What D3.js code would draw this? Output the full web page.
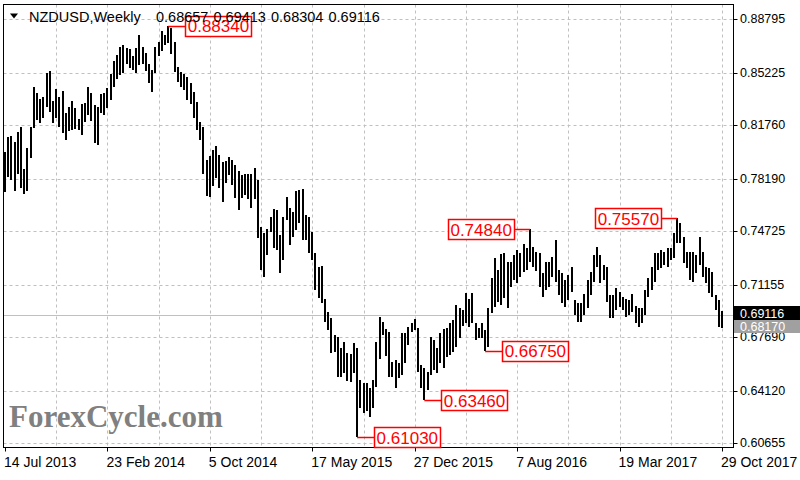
<!DOCTYPE html>
<html><head><meta charset="utf-8">
<script src="https://cdn.jsdelivr.net/npm/d3@7"></script>
<style>body{margin:0;background:#fff;}svg{display:block;}</style>
</head><body>
<svg id="c" width="800" height="480"></svg>
<script>
const highs = [0.7999,0.8098,0.8103,0.8063,0.8129,0.8163,0.7884,0.8023,0.8163,0.8428,
0.8388,0.8349,0.8362,0.8521,0.8535,0.8335,0.8415,0.8362,0.8402,0.8256,
0.8296,0.8335,0.8289,0.8216,0.8315,0.8322,0.8428,0.8388,0.8309,0.8296,
0.8382,0.8388,0.8422,0.8515,0.8601,0.8641,0.8694,0.8707,0.8689,0.8681,
0.8634,0.8689,0.8774,0.8696,0.8654,0.8581,0.8541,0.8696,0.8729,0.8800,
0.8774,0.8834,0.8820,0.8729,0.8563,0.8530,0.8515,0.8497,0.8455,0.8397,
0.8329,0.8196,0.8165,0.7944,0.7972,0.8010,0.8037,0.7977,0.7932,0.7937,
0.7965,0.7944,0.7910,0.7871,0.7844,0.7851,0.7851,0.7851,0.7890,0.7811,
0.7499,0.7459,0.7485,0.7565,0.7618,0.7612,0.7446,0.7565,0.7698,0.7625,
0.7598,0.7738,0.7744,0.7751,0.7578,0.7565,0.7466,0.7326,0.7233,0.7240,
0.7021,0.6934,0.6894,0.6782,0.6768,0.6695,0.6735,0.6662,0.6655,0.6728,
0.6695,0.6483,0.6463,0.6463,0.6430,0.6483,0.6735,0.6901,0.6868,0.6821,
0.6802,0.6602,0.6616,0.6596,0.6795,0.6795,0.6835,0.6861,0.6888,0.6828,
0.6582,0.6562,0.6536,0.6768,0.6748,0.6695,0.6795,0.6821,0.6828,0.6861,
0.6881,0.6981,0.6961,0.6948,0.7061,0.7021,0.7061,0.6861,0.6828,0.6861,
0.6815,0.6961,0.7160,0.7293,0.7213,0.7319,0.7326,0.7266,0.7266,0.7313,
0.7346,0.7326,0.7386,0.7359,0.7484,0.7366,0.7333,0.7326,0.7193,0.7266,
0.7266,0.7300,0.7412,0.7213,0.7193,0.7147,0.7180,0.7233,0.7014,0.6994,
0.6994,0.7054,0.7147,0.7200,0.7313,0.7366,0.7313,0.7246,0.7233,0.7047,
0.7047,0.7094,0.7067,0.7034,0.7021,0.7014,0.7054,0.6974,0.6961,0.6961,
0.7080,0.7160,0.7233,0.7326,0.7326,0.7346,0.7333,0.7359,0.7359,0.7459,
0.7557,0.7525,0.7432,0.7333,0.7333,0.7333,0.7313,0.7432,0.7333,0.7233,
0.7226,0.7200,0.7047,0.7014,0.69413];
const lows = [0.7733,0.7833,0.7811,0.7738,0.7851,0.7758,0.7718,0.7738,0.7957,0.8156,
0.8209,0.8189,0.8223,0.8296,0.8262,0.8189,0.8223,0.8163,0.8123,0.8076,
0.8136,0.8143,0.8149,0.8143,0.8110,0.8196,0.8242,0.8203,0.8056,0.8043,
0.8256,0.8242,0.8289,0.8342,0.8428,0.8481,0.8508,0.8521,0.8579,0.8555,
0.8541,0.8521,0.8574,0.8579,0.8535,0.8455,0.8395,0.8521,0.8636,0.8667,
0.8707,0.8718,0.8647,0.8530,0.8464,0.8430,0.8408,0.8342,0.8315,0.8223,
0.8143,0.8076,0.7851,0.7707,0.7700,0.7773,0.7824,0.7758,0.7667,0.7791,
0.7844,0.7778,0.7693,0.7612,0.7691,0.7711,0.7685,0.7625,0.7685,0.7426,
0.7213,0.7167,0.7313,0.7466,0.7359,0.7346,0.7193,0.7280,0.7545,0.7379,
0.7432,0.7479,0.7525,0.7412,0.7412,0.7326,0.7280,0.7080,0.7027,0.6994,
0.6868,0.6815,0.6662,0.6669,0.6503,0.6503,0.6529,0.6476,0.6470,0.6529,
0.6103,0.6297,0.6264,0.6277,0.6237,0.6297,0.6436,0.6622,0.6782,0.6642,
0.6503,0.6503,0.6430,0.6496,0.6516,0.6596,0.6715,0.6802,0.6815,0.6536,
0.6430,0.6346,0.6416,0.6516,0.6549,0.6529,0.6596,0.6562,0.6636,0.6649,
0.6669,0.6702,0.6762,0.6841,0.6861,0.6835,0.6861,0.6748,0.6762,0.6762,
0.6675,0.6702,0.6928,0.6968,0.7001,0.6981,0.7027,0.6961,0.7100,0.7147,
0.7127,0.7167,0.7200,0.7213,0.7266,0.7233,0.7207,0.7100,0.7034,0.7080,
0.7100,0.7167,0.7134,0.7047,0.6994,0.6968,0.7014,0.7067,0.6914,0.6868,
0.6868,0.6914,0.6961,0.7047,0.7134,0.7233,0.7127,0.7147,0.7001,0.6894,
0.6894,0.6948,0.6968,0.6948,0.6901,0.6914,0.6934,0.6861,0.6835,0.6861,
0.6914,0.7034,0.7080,0.7134,0.7213,0.7226,0.7246,0.7233,0.7280,0.7293,
0.7393,0.7393,0.7260,0.7226,0.7147,0.7134,0.7193,0.7246,0.7167,0.7127,
0.7061,0.7034,0.6948,0.6835,0.68304];

const yTicks = [0.88795,0.85225,0.81760,0.78190,0.74725,0.71155,0.67690,0.64120,0.60655];
const xTickIdx = [0,32,64,96,128,160,192,224];
const xTickLabels = ["14 Jul 2013","23 Feb 2014","5 Oct 2014","17 May 2015","27 Dec 2015","7 Aug 2016","19 Mar 2017","29 Oct 2017"];
const gridIdx = d3.range(16,225,16);
const annIdx = [51,164,210,110,131,150];
const annVal = [0.8834,0.7484,0.7557,0.6103,0.6346,0.6675];
const annSide = ["right","left","left","right","right","right"];
const headerVals = ["0.68657","0.69413","0.68304","0.69116"];
const closePrice = 0.69116;
const otherPrice = 0.68170;

const L=3.5, R=733.5, T=4.5, B=447.5;
const svg = d3.select("#c");
const x = d3.scaleLinear().domain([0,224]).range([5,722]);
const y = d3.scaleLinear().domain([0.6037,0.8979]).range([447,4]);
const F = "'Liberation Sans', Arial, sans-serif";

// grid
const g = svg.append("g");
g.selectAll("line.hg").data(yTicks).join("line")
  .attr("x1",L).attr("x2",R).attr("y1",d=>Math.round(y(d))+0.5).attr("y2",d=>Math.round(y(d))+0.5)
  .attr("stroke","#c0c0c0").attr("stroke-dasharray","3,3");
g.selectAll("line.vg").data(gridIdx).join("line")
  .attr("y1",T).attr("y2",B).attr("x1",d=>Math.round(x(d))+0.5).attr("x2",d=>Math.round(x(d))+0.5)
  .attr("stroke","#c0c0c0").attr("stroke-dasharray","3,3");

// close line
svg.append("line").attr("x1",L).attr("x2",R)
  .attr("y1",Math.round(y(closePrice))+0.5).attr("y2",Math.round(y(closePrice))+0.5)
  .attr("stroke","#c0c0c0").attr("stroke-width",1);

// watermark
svg.append("text").attr("x",9).attr("y",427).text("ForexCycle.com")
  .attr("font-family","'Liberation Serif','Times New Roman',serif").attr("font-weight","bold")
  .attr("font-size",31).attr("fill","#808080");

// bars
svg.append("g").selectAll("line").data(highs).join("line")
  .attr("x1",(d,i)=>Math.round(x(i))).attr("x2",(d,i)=>Math.round(x(i)))
  .attr("y1",d=>y(d)).attr("y2",(d,i)=>y(lows[i]))
  .attr("stroke","#000").attr("stroke-width",2).attr("shape-rendering","crispEdges");

// border
svg.append("rect").attr("x",L).attr("y",T).attr("width",R-L).attr("height",B-T)
  .attr("fill","none").attr("stroke","#000");

// y axis labels and ticks
svg.selectAll("line.yt").data(yTicks).join("line")
  .attr("x1",R).attr("x2",R+4).attr("y1",d=>Math.round(y(d))+0.5).attr("y2",d=>Math.round(y(d))+0.5)
  .attr("stroke","#000");
svg.selectAll("text.yl").data(yTicks).join("text")
  .attr("x",740).attr("y",d=>y(d)+4.5).text(d=>d.toFixed(5))
  .attr("font-family",F).attr("font-size",12.5).attr("fill","#000");

// x axis labels and ticks
svg.selectAll("line.xt").data(xTickIdx).join("line")
  .attr("x1",d=>Math.round(x(d))+0.5).attr("x2",d=>Math.round(x(d))+0.5).attr("y1",B).attr("y2",B+4)
  .attr("stroke","#000");
svg.selectAll("text.xl").data(xTickIdx).join("text")
  .attr("x",d=>x(d)-1).attr("y",466.5).text((d,i)=>xTickLabels[i])
  .attr("font-family",F).attr("font-size",14).attr("fill","#000");

// price labels on right
const cy = y(closePrice);
svg.append("rect").attr("x",734).attr("y",306).attr("width",66).attr("height",14).attr("fill","#000");
svg.append("text").attr("x",740).attr("y",318).text(closePrice.toFixed(5))
  .attr("font-family",F).attr("font-size",12.5).attr("fill","#fff");
svg.append("rect").attr("x",734).attr("y",320).attr("width",66).attr("height",13).attr("fill","#a0a0a0");
svg.append("text").attr("x",740).attr("y",331).text(otherPrice.toFixed(5))
  .attr("font-family",F).attr("font-size",12.5).attr("fill","#fff");

// annotations
const ann = svg.append("g");
annIdx.forEach((bi,k)=>{
  const bx = x(bi), by = y(annVal[k]);
  const w = 66, h = 20;
  let bxl = annSide[k]==="right" ? bx+17 : bx-16-w;
  let lx1 = annSide[k]==="right" ? bx : bx-16;
  let lx2 = annSide[k]==="right" ? bx+17 : bx;
  ann.append("line").attr("x1",lx1).attr("x2",lx2).attr("y1",Math.round(by)+0.5).attr("y2",Math.round(by)+0.5)
    .attr("stroke","#ff0000").attr("stroke-width",1.5);
  ann.append("rect").attr("x",Math.round(bxl)+0.5).attr("y",Math.round(by-h/2)+0.5).attr("width",w).attr("height",h)
    .attr("fill","#fff").attr("stroke","#ff0000").attr("stroke-width",1.5);
  ann.append("text").attr("x",bxl+2.5).attr("y",by+6.5).text(annVal[k].toFixed(5))
    .attr("font-family",F).attr("font-size",17).attr("fill","#ff0000");
});

// header
svg.append("path").attr("d","M10,13.5 L18,13.5 L14,18.5 Z").attr("fill","#000");
svg.append("text").attr("x",29).attr("y",21.5).text("NZDUSD,Weekly")
  .attr("font-family",F).attr("font-size",14.5).attr("fill","#000");
svg.selectAll("text.hv").data(headerVals).join("text")
  .attr("x",(d,i)=>156+i*57.5).attr("y",21.5).text(d=>d)
  .attr("font-family",F).attr("font-size",14.5).attr("fill","#000");
</script>
</body></html>
